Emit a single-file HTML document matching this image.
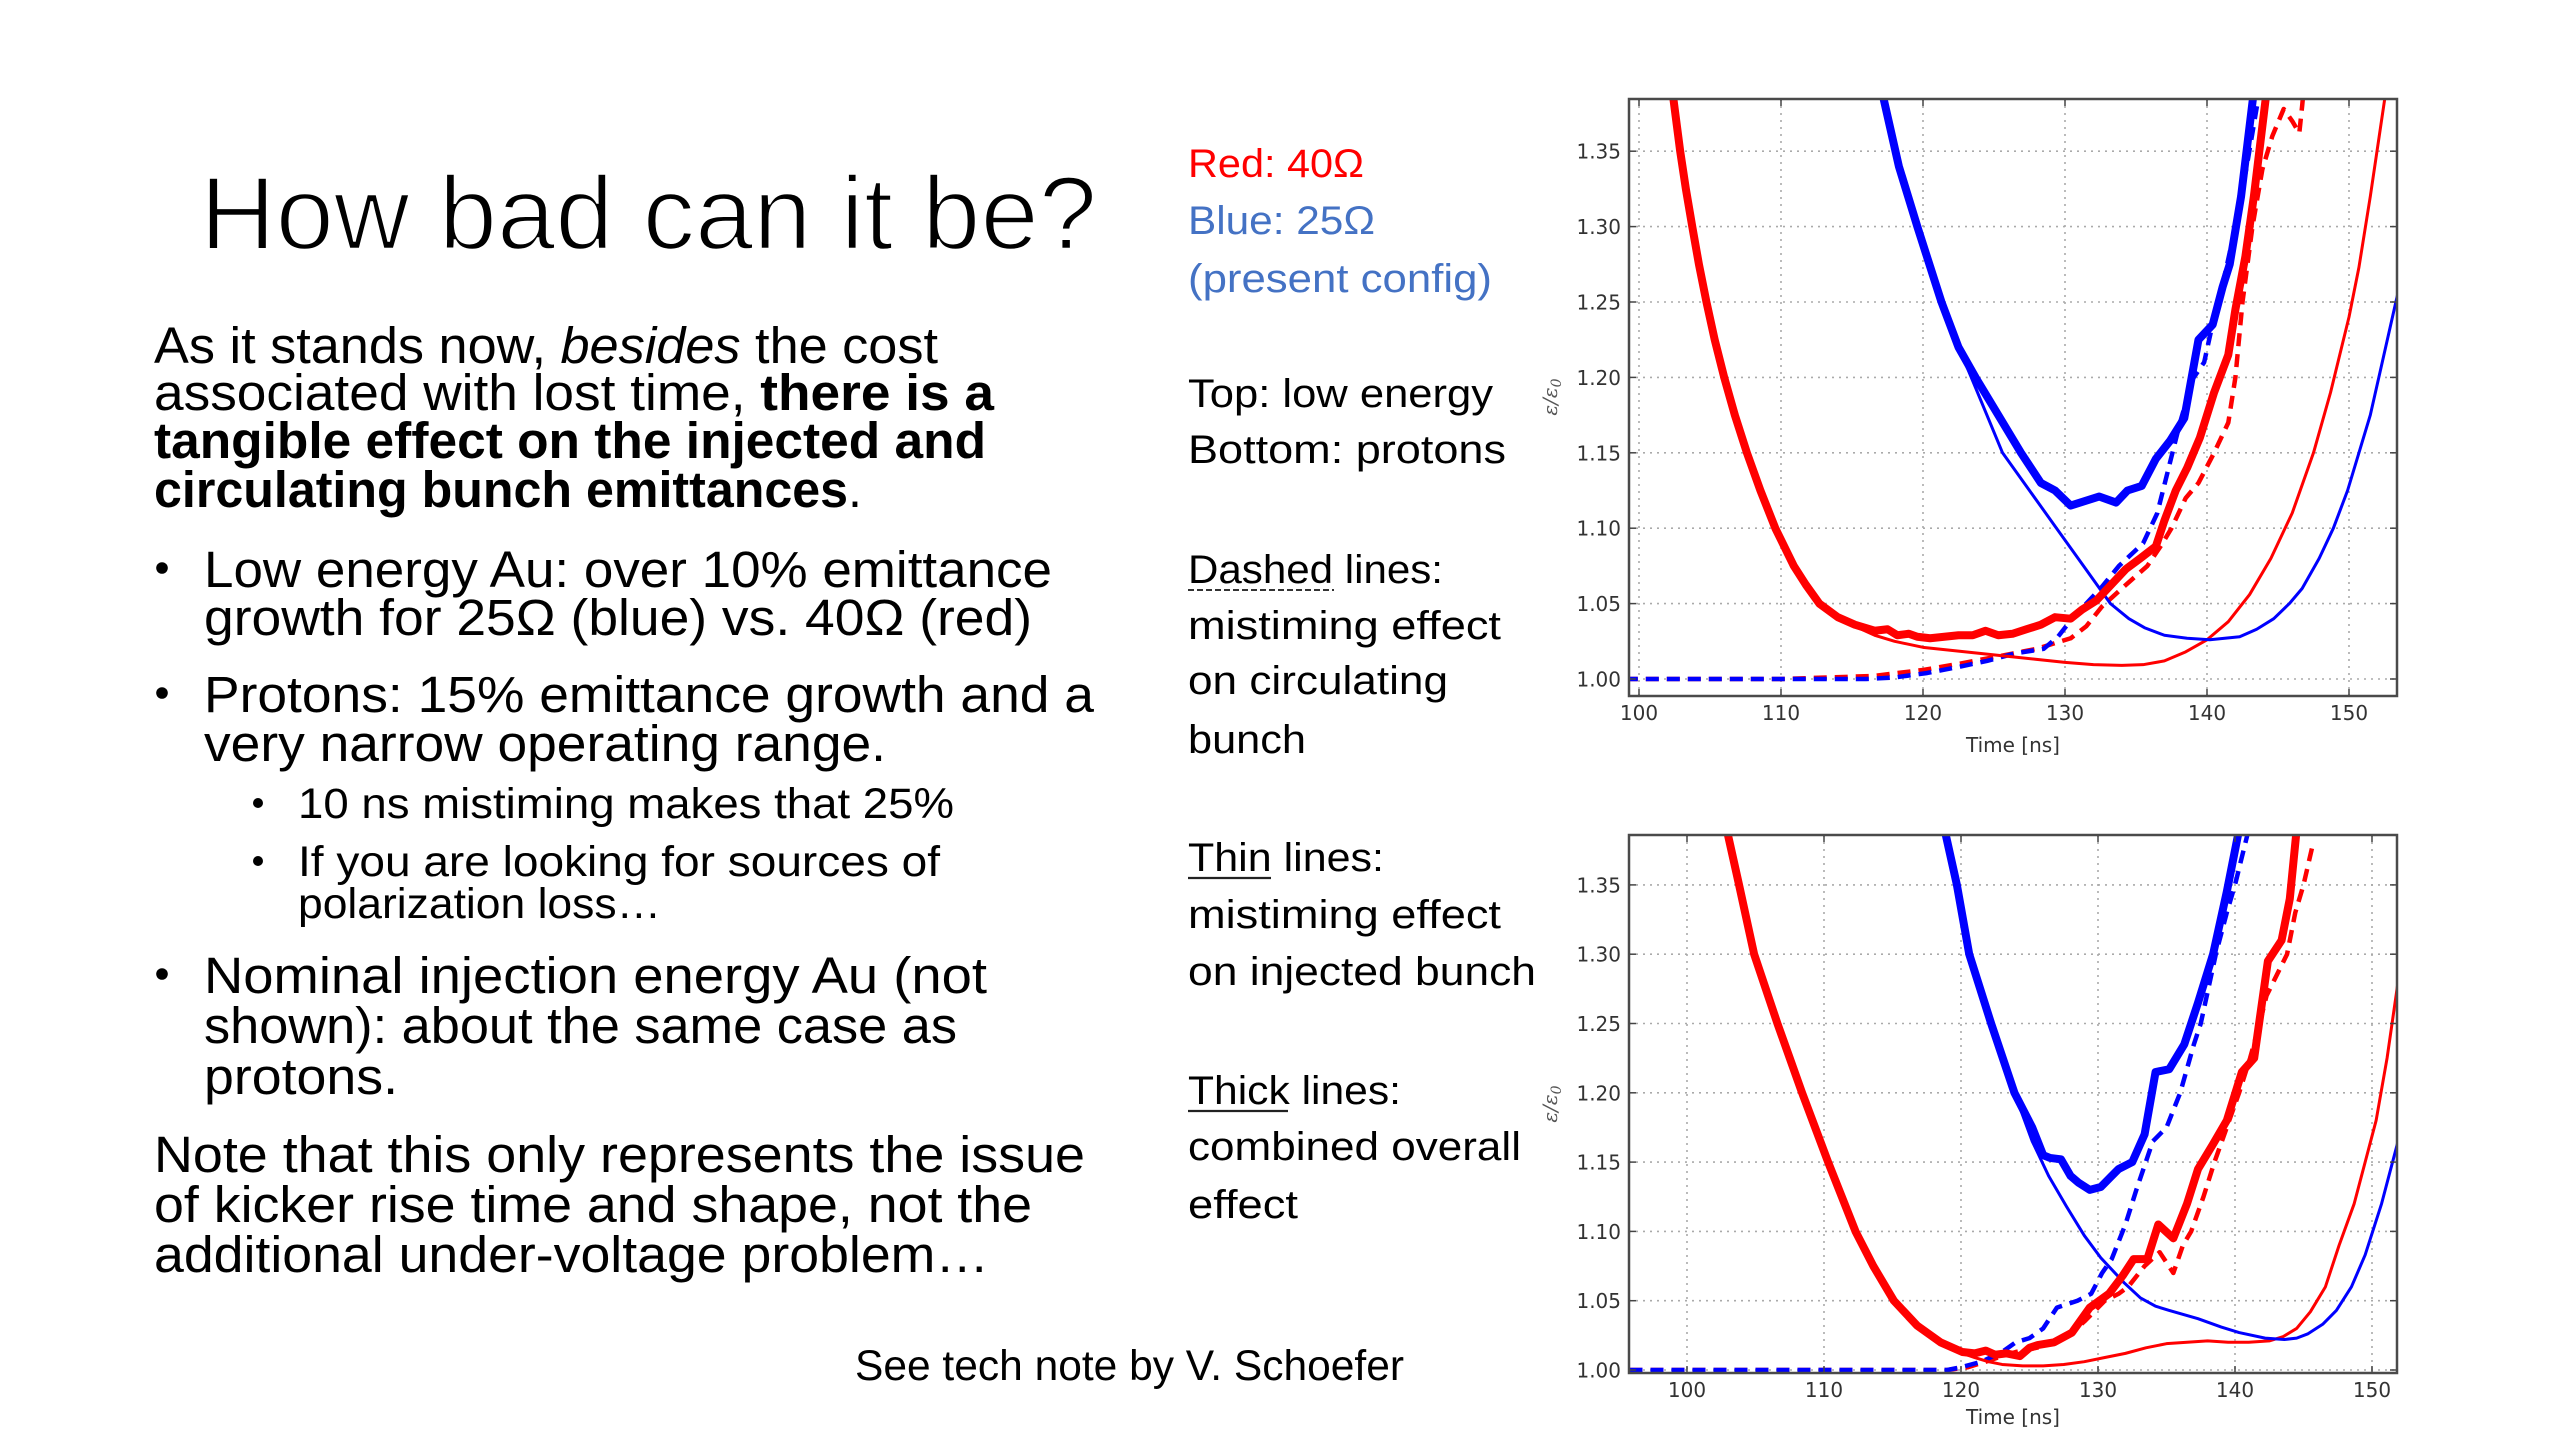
<!DOCTYPE html>
<html><head><meta charset="utf-8"><style>
html,body{margin:0;padding:0;background:#fff;}
svg{display:block;}
.s{font-family:"Liberation Sans",Arial,sans-serif;fill:#000;}
.t{font-family:"DejaVu Sans","Liberation Sans",sans-serif;fill:#333;font-size:20px;}
.g{stroke:#aaa;stroke-width:1.6;stroke-dasharray:2 5;fill:none;}
.tk{stroke:#444;stroke-width:1.5;}
.c{fill:none;vector-effect:non-scaling-stroke;stroke-linejoin:round;}
.r{stroke:#ff0000;}.b{stroke:#0000ff;}
.thick{stroke-width:8;}.thin{stroke-width:3;}.dash{stroke-width:4.5;stroke-dasharray:13 8;}
</style></head><body>
<svg width="2560" height="1440" viewBox="0 0 2560 1440" xmlns="http://www.w3.org/2000/svg">
<rect width="2560" height="1440" fill="#fff"/>
<defs>
<clipPath id="c1"><rect x="1629" y="99" width="768" height="597"/></clipPath>
<clipPath id="c2"><rect x="1629" y="835" width="768" height="538"/></clipPath>
</defs>

<!-- Title -->
<text class="s" x="200" y="249" font-size="104" textLength="897" lengthAdjust="spacingAndGlyphs" fill="#111" stroke="#fff" stroke-width="2.5">How bad can it be?</text>

<!-- Body -->
<g class="s" font-size="51">
<text x="154" y="363" textLength="784" lengthAdjust="spacingAndGlyphs">As it stands now, <tspan font-style="italic">besides</tspan> the cost</text>
<text x="154" y="410" textLength="840" lengthAdjust="spacingAndGlyphs">associated with lost time, <tspan font-weight="bold">there is a</tspan></text>
<text x="154" y="458" textLength="832" lengthAdjust="spacingAndGlyphs" font-weight="bold">tangible effect on the injected and</text>
<text x="154" y="507" textLength="708" lengthAdjust="spacingAndGlyphs"><tspan font-weight="bold">circulating bunch emittances</tspan>.</text>
<text x="204" y="587" textLength="848" lengthAdjust="spacingAndGlyphs">Low energy Au: over 10% emittance</text>
<text x="204" y="635" textLength="828" lengthAdjust="spacingAndGlyphs">growth for 25Ω (blue) vs. 40Ω (red)</text>
<text x="204" y="712" textLength="890" lengthAdjust="spacingAndGlyphs">Protons: 15% emittance growth and a</text>
<text x="204" y="761" textLength="682" lengthAdjust="spacingAndGlyphs">very narrow operating range.</text>
<text x="204" y="993" textLength="783" lengthAdjust="spacingAndGlyphs">Nominal injection energy Au (not</text>
<text x="204" y="1043" textLength="753" lengthAdjust="spacingAndGlyphs">shown): about the same case as</text>
<text x="204" y="1094" textLength="194" lengthAdjust="spacingAndGlyphs">protons.</text>
<text x="154" y="1172" textLength="931" lengthAdjust="spacingAndGlyphs">Note that this only represents the issue</text>
<text x="154" y="1222" textLength="878" lengthAdjust="spacingAndGlyphs">of kicker rise time and shape, not the</text>
<text x="154" y="1272" textLength="835" lengthAdjust="spacingAndGlyphs">additional under-voltage problem…</text>
</g>
<g class="s" font-size="43">
<text x="298" y="818" textLength="656" lengthAdjust="spacingAndGlyphs">10 ns mistiming makes that 25%</text>
<text x="298" y="876" textLength="642" lengthAdjust="spacingAndGlyphs">If you are looking for sources of</text>
<text x="298" y="918" textLength="363" lengthAdjust="spacingAndGlyphs">polarization loss…</text>
</g>
<g fill="#000">
<circle cx="162" cy="568" r="5.8"/>
<circle cx="162" cy="693" r="5.8"/>
<circle cx="162" cy="974" r="5.8"/>
<circle cx="258" cy="803" r="5"/>
<circle cx="258" cy="861" r="5"/>
</g>
<text class="s" x="855" y="1380" font-size="43" textLength="549" lengthAdjust="spacingAndGlyphs">See tech note by V. Schoefer</text>

<!-- Middle column -->
<g class="s" font-size="40">
<text x="1188" y="177" textLength="176" lengthAdjust="spacingAndGlyphs" fill="#ff0000">Red: 40Ω</text>
<text x="1188" y="234" textLength="187" lengthAdjust="spacingAndGlyphs" fill="#4472c4">Blue: 25Ω</text>
<text x="1188" y="292" textLength="304" lengthAdjust="spacingAndGlyphs" fill="#4472c4">(present config)</text>
<text x="1188" y="407" textLength="305" lengthAdjust="spacingAndGlyphs">Top: low energy</text>
<text x="1188" y="463" textLength="318" lengthAdjust="spacingAndGlyphs">Bottom: protons</text>
<text x="1188" y="583" textLength="255" lengthAdjust="spacingAndGlyphs">Dashed lines:</text>
<text x="1188" y="639" textLength="313" lengthAdjust="spacingAndGlyphs">mistiming effect</text>
<text x="1188" y="694" textLength="260" lengthAdjust="spacingAndGlyphs">on circulating</text>
<text x="1188" y="753" textLength="118" lengthAdjust="spacingAndGlyphs">bunch</text>
<text x="1188" y="871" textLength="196" lengthAdjust="spacingAndGlyphs">Thin lines:</text>
<text x="1188" y="928" textLength="313" lengthAdjust="spacingAndGlyphs">mistiming effect</text>
<text x="1188" y="985" textLength="348" lengthAdjust="spacingAndGlyphs">on injected bunch</text>
<text x="1188" y="1104" textLength="213" lengthAdjust="spacingAndGlyphs">Thick lines:</text>
<text x="1188" y="1160" textLength="333" lengthAdjust="spacingAndGlyphs">combined overall</text>
<text x="1188" y="1218" textLength="110" lengthAdjust="spacingAndGlyphs">effect</text>
</g>
<line x1="1188" y1="590" x2="1334" y2="590" stroke="#333" stroke-width="2" stroke-dasharray="6 3"/>
<line x1="1188" y1="878" x2="1271" y2="878" stroke="#222" stroke-width="2.2"/>
<line x1="1188" y1="1111" x2="1288" y2="1111" stroke="#222" stroke-width="2.2"/>

<!-- ===== TOP CHART ===== -->
<g class="g">
<line x1="1639" y1="99" x2="1639" y2="696"/><line x1="1781" y1="99" x2="1781" y2="696"/><line x1="1923" y1="99" x2="1923" y2="696"/><line x1="2065" y1="99" x2="2065" y2="696"/><line x1="2207" y1="99" x2="2207" y2="696"/><line x1="2349" y1="99" x2="2349" y2="696"/>
<line x1="1629" y1="679" x2="2397" y2="679"/><line x1="1629" y1="603.6" x2="2397" y2="603.6"/><line x1="1629" y1="528.2" x2="2397" y2="528.2"/><line x1="1629" y1="452.8" x2="2397" y2="452.8"/><line x1="1629" y1="377.4" x2="2397" y2="377.4"/><line x1="1629" y1="302" x2="2397" y2="302"/><line x1="1629" y1="226.6" x2="2397" y2="226.6"/><line x1="1629" y1="151.2" x2="2397" y2="151.2"/>
</g>
<g clip-path="url(#c1)">
<g transform="matrix(14.2 0 0 -1508 219 2187)">
<polyline class="c r dash" points="99,1.0 110,1.0 116.5,1.002 120,1.006 122.5,1.01 125.3,1.015 128,1.02 130.4,1.027 131.5,1.035 132.6,1.048 134,1.06 135.8,1.075 136.8,1.089 137.5,1.1 138.5,1.12 139.4,1.13 140.5,1.15 141.5,1.17 142,1.2 142.5,1.25 143.2,1.3 143.9,1.338 144.6,1.36 145.4,1.378 146,1.37 146.5,1.362 146.7,1.38 146.8,1.39"/>
<polyline class="c b dash" points="99,1.0 116,1.0 118,1.001 120.3,1.004 122.5,1.008 124.5,1.012 126.5,1.017 128.5,1.02 129.5,1.028 130.5,1.04 131.5,1.05 132.5,1.06 133.8,1.075 135.5,1.09 136.5,1.11 137.3,1.14 138.1,1.17 139,1.199 139.8,1.21 140.5,1.24 141.3,1.27 142,1.3 142.8,1.34 143.7,1.39"/>
<polyline class="c r thin" points="102.35,1.39 102.9,1.35 103.3,1.325 103.75,1.30 104.22,1.275 104.75,1.25 105.33,1.225 106.0,1.20 106.75,1.175 107.6,1.15 108.55,1.125 109.6,1.10 110.9,1.075 111.75,1.0625 112.7,1.05 113.9,1.042 115.2,1.035 116.6,1.029 118,1.025 120,1.021 122,1.019 124,1.017 126,1.015 128,1.013 130,1.011 132,1.0095 134,1.009 135.5,1.0095 137,1.012 138.5,1.018 140,1.026 141.5,1.038 143,1.056 144.5,1.08 146,1.11 147.5,1.15 148.7,1.19 150,1.24 150.7,1.273 151.5,1.32 152.6,1.39"/>
<polyline class="c b thin" points="117.1,1.39 118.3,1.34 119.6,1.30 121.3,1.25 122.5,1.22 123.4,1.20 124.5,1.175 125.6,1.15 127.5,1.125 129.4,1.10 131.3,1.075 133.2,1.05 134.5,1.04 135.6,1.034 137,1.029 138.6,1.027 140.2,1.026 142.3,1.028 143.5,1.033 144.7,1.04 145.8,1.05 146.7,1.06 147.9,1.08 148.9,1.1 149.9,1.125 150.7,1.15 151.5,1.175 152.1,1.2 153.3,1.25 153.8,1.27"/>
<polyline class="c r thick" points="102.35,1.39 102.9,1.35 103.3,1.325 103.75,1.30 104.22,1.275 104.75,1.25 105.33,1.225 106.0,1.20 106.75,1.175 107.6,1.15 108.55,1.125 109.6,1.10 110.9,1.075 111.75,1.0625 112.7,1.05 114.0,1.041 115.2,1.036 116.6,1.032 117.5,1.033 118.2,1.029 119,1.03 119.6,1.028 120.5,1.027 121.5,1.028 122.5,1.029 123.5,1.029 124.4,1.032 125.3,1.029 126.3,1.03 127.3,1.033 128.3,1.036 129.3,1.041 130.4,1.040 131.2,1.046 132.2,1.052 133.2,1.062 134.3,1.073 135.3,1.080 136.4,1.088 137.0,1.105 137.8,1.125 138.6,1.14 139.5,1.16 140.5,1.19 141.5,1.215 142.0,1.245 142.7,1.28 143.3,1.32 144.2,1.39"/>
<polyline class="c b thick" points="117.1,1.39 118.3,1.34 119.6,1.30 121.3,1.25 122.5,1.22 123.7,1.20 125.3,1.175 126.9,1.15 128.3,1.13 129.3,1.125 130.4,1.115 131.4,1.118 132.4,1.121 133.6,1.117 134.4,1.125 135.4,1.128 136.4,1.146 137.4,1.158 138.4,1.173 139.4,1.225 140.4,1.235 141.1,1.26 141.6,1.275 142.4,1.32 143.3,1.39"/>
</g>
</g>
<g class="tk">
<line x1="1639" y1="696" x2="1639" y2="689"/><line x1="1781" y1="696" x2="1781" y2="689"/><line x1="1923" y1="696" x2="1923" y2="689"/><line x1="2065" y1="696" x2="2065" y2="689"/><line x1="2207" y1="696" x2="2207" y2="689"/><line x1="2349" y1="696" x2="2349" y2="689"/>
<line x1="1639" y1="99" x2="1639" y2="106"/><line x1="1781" y1="99" x2="1781" y2="106"/><line x1="1923" y1="99" x2="1923" y2="106"/><line x1="2065" y1="99" x2="2065" y2="106"/><line x1="2207" y1="99" x2="2207" y2="106"/><line x1="2349" y1="99" x2="2349" y2="106"/>
<line x1="1629" y1="679" x2="1636" y2="679"/><line x1="1629" y1="603.6" x2="1636" y2="603.6"/><line x1="1629" y1="528.2" x2="1636" y2="528.2"/><line x1="1629" y1="452.8" x2="1636" y2="452.8"/><line x1="1629" y1="377.4" x2="1636" y2="377.4"/><line x1="1629" y1="302" x2="1636" y2="302"/><line x1="1629" y1="226.6" x2="1636" y2="226.6"/><line x1="1629" y1="151.2" x2="1636" y2="151.2"/>
<line x1="2397" y1="679" x2="2390" y2="679"/><line x1="2397" y1="603.6" x2="2390" y2="603.6"/><line x1="2397" y1="528.2" x2="2390" y2="528.2"/><line x1="2397" y1="452.8" x2="2390" y2="452.8"/><line x1="2397" y1="377.4" x2="2390" y2="377.4"/><line x1="2397" y1="302" x2="2390" y2="302"/><line x1="2397" y1="226.6" x2="2390" y2="226.6"/><line x1="2397" y1="151.2" x2="2390" y2="151.2"/>
</g>
<rect x="1629" y="99" width="768" height="597" fill="none" stroke="#4a4a4a" stroke-width="2.5"/>
<g class="t" text-anchor="end">
<text x="1621" y="686.5">1.00</text><text x="1621" y="611">1.05</text><text x="1621" y="535.7">1.10</text><text x="1621" y="460.3">1.15</text><text x="1621" y="384.9">1.20</text><text x="1621" y="309.5">1.25</text><text x="1621" y="234.1">1.30</text><text x="1621" y="158.7">1.35</text>
</g>
<g class="t" text-anchor="middle">
<text x="1639" y="720">100</text><text x="1781" y="720">110</text><text x="1923" y="720">120</text><text x="2065" y="720">130</text><text x="2207" y="720">140</text><text x="2349" y="720">150</text>
<text x="2013" y="752">Time [ns]</text>
</g>
<text transform="translate(1557,397) rotate(-90)" text-anchor="middle" font-family="DejaVu Serif,serif" font-style="italic" font-size="20" fill="#555">ε/ε<tspan font-size="14" dy="4">0</tspan></text>

<!-- ===== BOTTOM CHART ===== -->
<g class="g">
<line x1="1687" y1="835" x2="1687" y2="1373"/><line x1="1824" y1="835" x2="1824" y2="1373"/><line x1="1961" y1="835" x2="1961" y2="1373"/><line x1="2098" y1="835" x2="2098" y2="1373"/><line x1="2235" y1="835" x2="2235" y2="1373"/><line x1="2372" y1="835" x2="2372" y2="1373"/>
<line x1="1629" y1="1370" x2="2397" y2="1370"/><line x1="1629" y1="1300.7" x2="2397" y2="1300.7"/><line x1="1629" y1="1231.4" x2="2397" y2="1231.4"/><line x1="1629" y1="1162.1" x2="2397" y2="1162.1"/><line x1="1629" y1="1092.8" x2="2397" y2="1092.8"/><line x1="1629" y1="1023.5" x2="2397" y2="1023.5"/><line x1="1629" y1="954.2" x2="2397" y2="954.2"/><line x1="1629" y1="884.9" x2="2397" y2="884.9"/>
</g>
<g clip-path="url(#c2)">
<g transform="matrix(13.7 0 0 -1386 317 2756)">
<polyline class="c r dash" points="95.8,1.0 119,1.0 120.5,1.002 121.8,1.006 123,1.01 124,1.013 125.5,1.016 127,1.02 128,1.026 129,1.035 130.5,1.05 131.5,1.055 132.2,1.06 133.4,1.075 134.5,1.085 135.5,1.07 136.2,1.09 136.8,1.1 137.7,1.125 138.5,1.15 139.4,1.175 140.3,1.2 141.1,1.225 141.8,1.25 142.3,1.27 143.3,1.29 143.8,1.3 144.4,1.33 145,1.35 145.7,1.38"/>
<polyline class="c b dash" points="95.8,1.0 119,1.0 120,1.002 121.5,1.006 123,1.013 124,1.02 125,1.023 126,1.03 127,1.045 128.5,1.05 129.5,1.055 130.3,1.07 131,1.08 132,1.105 132.8,1.13 134,1.165 135,1.175 136,1.2 137,1.235 137.5,1.25 138.6,1.3 139.4,1.33 140,1.35 141,1.39"/>
<polyline class="c r thin" points="102.9,1.39 103.8,1.35 104.9,1.30 105.75,1.275 106.6,1.25 107.5,1.225 108.4,1.20 110.3,1.15 112.3,1.10 113.6,1.075 115.1,1.05 116.8,1.032 118.5,1.02 120.1,1.012 121,1.009 122,1.006 123,1.004 124.5,1.003 126,1.003 127.5,1.004 129,1.006 130.5,1.009 132,1.012 133.5,1.016 135,1.019 136.5,1.02 138,1.021 139.5,1.02 141,1.02 142.5,1.021 143.5,1.024 144.5,1.03 145.5,1.042 146.6,1.06 147.6,1.09 148.7,1.12 149.5,1.15 150.3,1.18 151.1,1.225 151.9,1.28"/>
<polyline class="c b thin" points="118.8,1.39 119.7,1.35 120.6,1.30 122.2,1.25 123.3,1.22 123.9,1.20 125.2,1.165 126.4,1.14 127.7,1.118 129,1.097 130.2,1.081 131.9,1.063 133.1,1.052 134.2,1.046 135.2,1.043 137.3,1.037 139,1.031 140.3,1.027 142.2,1.023 143.6,1.022 144.5,1.023 145.3,1.026 146.4,1.033 147.4,1.043 148.5,1.06 149.5,1.083 150.7,1.12 151.9,1.165"/>
<polyline class="c r thick" points="102.9,1.39 103.8,1.35 104.9,1.30 105.75,1.275 106.6,1.25 107.5,1.225 108.4,1.20 110.3,1.15 112.3,1.10 113.6,1.075 115.1,1.05 116.8,1.032 118.5,1.02 120.1,1.013 121,1.012 121.8,1.014 122.5,1.011 123.3,1.012 124.3,1.01 125,1.016 125.6,1.018 126.8,1.02 128.1,1.027 129.4,1.045 130.8,1.055 131.8,1.068 132.6,1.08 133.6,1.08 134.4,1.105 135.5,1.095 136.5,1.12 137.3,1.145 138.4,1.163 139.4,1.18 140.5,1.215 141.4,1.225 142.4,1.295 143.4,1.31 144,1.34 144.5,1.39"/>
<polyline class="c b thick" points="118.8,1.39 119.7,1.35 120.6,1.30 122.2,1.25 123.9,1.20 125.2,1.175 126,1.155 126.5,1.153 127.3,1.152 128,1.14 128.6,1.135 129.4,1.13 130.2,1.132 131,1.14 131.5,1.145 132.5,1.15 133.4,1.17 134.2,1.215 135.2,1.217 136.3,1.235 137.3,1.265 138.4,1.30 139.4,1.345 140.3,1.39"/>
</g>
</g>
<g class="tk">
<line x1="1687" y1="1373" x2="1687" y2="1366"/><line x1="1824" y1="1373" x2="1824" y2="1366"/><line x1="1961" y1="1373" x2="1961" y2="1366"/><line x1="2098" y1="1373" x2="2098" y2="1366"/><line x1="2235" y1="1373" x2="2235" y2="1366"/><line x1="2372" y1="1373" x2="2372" y2="1366"/>
<line x1="1687" y1="835" x2="1687" y2="842"/><line x1="1824" y1="835" x2="1824" y2="842"/><line x1="1961" y1="835" x2="1961" y2="842"/><line x1="2098" y1="835" x2="2098" y2="842"/><line x1="2235" y1="835" x2="2235" y2="842"/><line x1="2372" y1="835" x2="2372" y2="842"/>
<line x1="1629" y1="1370" x2="1636" y2="1370"/><line x1="1629" y1="1300.7" x2="1636" y2="1300.7"/><line x1="1629" y1="1231.4" x2="1636" y2="1231.4"/><line x1="1629" y1="1162.1" x2="1636" y2="1162.1"/><line x1="1629" y1="1092.8" x2="1636" y2="1092.8"/><line x1="1629" y1="1023.5" x2="1636" y2="1023.5"/><line x1="1629" y1="954.2" x2="1636" y2="954.2"/><line x1="1629" y1="884.9" x2="1636" y2="884.9"/>
<line x1="2397" y1="1370" x2="2390" y2="1370"/><line x1="2397" y1="1300.7" x2="2390" y2="1300.7"/><line x1="2397" y1="1231.4" x2="2390" y2="1231.4"/><line x1="2397" y1="1162.1" x2="2390" y2="1162.1"/><line x1="2397" y1="1092.8" x2="2390" y2="1092.8"/><line x1="2397" y1="1023.5" x2="2390" y2="1023.5"/><line x1="2397" y1="954.2" x2="2390" y2="954.2"/><line x1="2397" y1="884.9" x2="2390" y2="884.9"/>
</g>
<rect x="1629" y="835" width="768" height="538" fill="none" stroke="#4a4a4a" stroke-width="2.5"/>
<g class="t" text-anchor="end">
<text x="1621" y="1377.5">1.00</text><text x="1621" y="1308.2">1.05</text><text x="1621" y="1238.9">1.10</text><text x="1621" y="1169.6">1.15</text><text x="1621" y="1100.3">1.20</text><text x="1621" y="1031">1.25</text><text x="1621" y="961.7">1.30</text><text x="1621" y="892.4">1.35</text>
</g>
<g class="t" text-anchor="middle">
<text x="1687" y="1397">100</text><text x="1824" y="1397">110</text><text x="1961" y="1397">120</text><text x="2098" y="1397">130</text><text x="2235" y="1397">140</text><text x="2372" y="1397">150</text>
<text x="2013" y="1424">Time [ns]</text>
</g>
<text transform="translate(1557,1104) rotate(-90)" text-anchor="middle" font-family="DejaVu Serif,serif" font-style="italic" font-size="20" fill="#555">ε/ε<tspan font-size="14" dy="4">0</tspan></text>
</svg>
</body></html>
